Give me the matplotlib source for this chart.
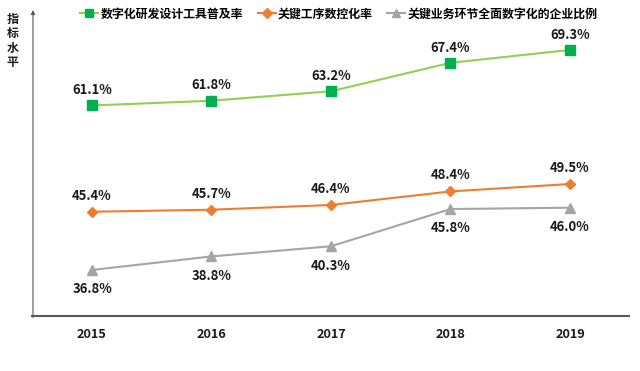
import matplotlib
matplotlib.use("Agg")
import matplotlib.pyplot as plt

plt.rcParams['font.family'] = ['Noto Sans CJK SC', 'DejaVu Sans']

years = ['2015', '2016', '2017', '2018', '2019']
rd_tools = [61.1, 61.8, 63.2, 67.4, 69.3]
nc_rate = [45.4, 45.7, 46.4, 48.4, 49.5]
full_digital = [36.8, 38.8, 40.3, 45.8, 46.0]
series_names = ['数字化研发设计工具普及率', '关键工序数控化率', '关键业务环节全面数字化的企业比例']

fig = plt.figure(figsize=(6.4, 3.71), dpi=100)
W, H = 640, 371
ax = fig.add_axes([32 / W, 55 / H, 597 / W, 306 / H])

x = list(range(len(years)))
l1, = ax.plot(x, rd_tools, color='#92D050', lw=1.5, marker='s', markersize=6.6,
              markerfacecolor='#00B050', markeredgecolor='#00B050', label=series_names[0])
l2, = ax.plot(x, nc_rate, color='#ED7D31', lw=1.5, marker='D', markersize=5.6,
              markerfacecolor='#ED7D31', markeredgecolor='#ED7D31', label=series_names[1])
l3, = ax.plot(x, full_digital, color='#A5A5A5', lw=1.5, marker='^', markersize=7.4,
              markerfacecolor='#A5A5A5', markeredgecolor='#A5A5A5', label=series_names[2])

lab_kw = dict(textcoords='offset points', ha='center', va='center', fontsize=9.4,
              fontweight='bold', color='#1a1a1a')
for xi, v in zip(x, rd_tools):
    ax.annotate(f'{v:.1f}%', (xi, v), xytext=(0, 11), **lab_kw)
for xi, v in zip(x, nc_rate):
    ax.annotate(f'{v:.1f}%', (xi, v), xytext=(0, 11.5), **lab_kw)
for xi, v in zip(x, full_digital):
    ax.annotate(f'{v:.1f}%', (xi, v), xytext=(0, -14), **lab_kw)

ax.set_xlim(-0.502, 4.494)
ax.set_ylim(30.0, 75.2)
ax.set_xticks(x)
ax.set_xticklabels(years, fontsize=9.2, fontweight='bold', color='#1a1a1a')
ax.tick_params(axis='x', length=0, pad=9)
ax.set_yticks([])
for s in ['top', 'right', 'left']:
    ax.spines[s].set_visible(False)
ax.spines['bottom'].set_color('#595959')
ax.spines['bottom'].set_linewidth(1.5)

yx = 1 / 597
ax.annotate('', xy=(yx, 1.0), xytext=(yx, -0.005), xycoords='axes fraction',
            arrowprops=dict(arrowstyle='-|>', color='#595959', lw=0.8, mutation_scale=6,
                            shrinkA=0, shrinkB=0))

fig.text(12.5 / W, 1 - 41 / H, '指\n标\n水\n平', ha='center', va='center', fontsize=8.6,
         fontweight='bold', linespacing=1.12, color='#1a1a1a')

fig.legend(handles=[l1, l2, l3], loc='center', bbox_to_anchor=(339 / W, 1 - 14 / H),
           ncol=3, frameon=False, prop={'weight': 'bold', 'size': 8.6},
           handlelength=1.5, handletextpad=0.2, columnspacing=1.2, markerscale=0.85)

fig.savefig('out.png', dpi=100)
